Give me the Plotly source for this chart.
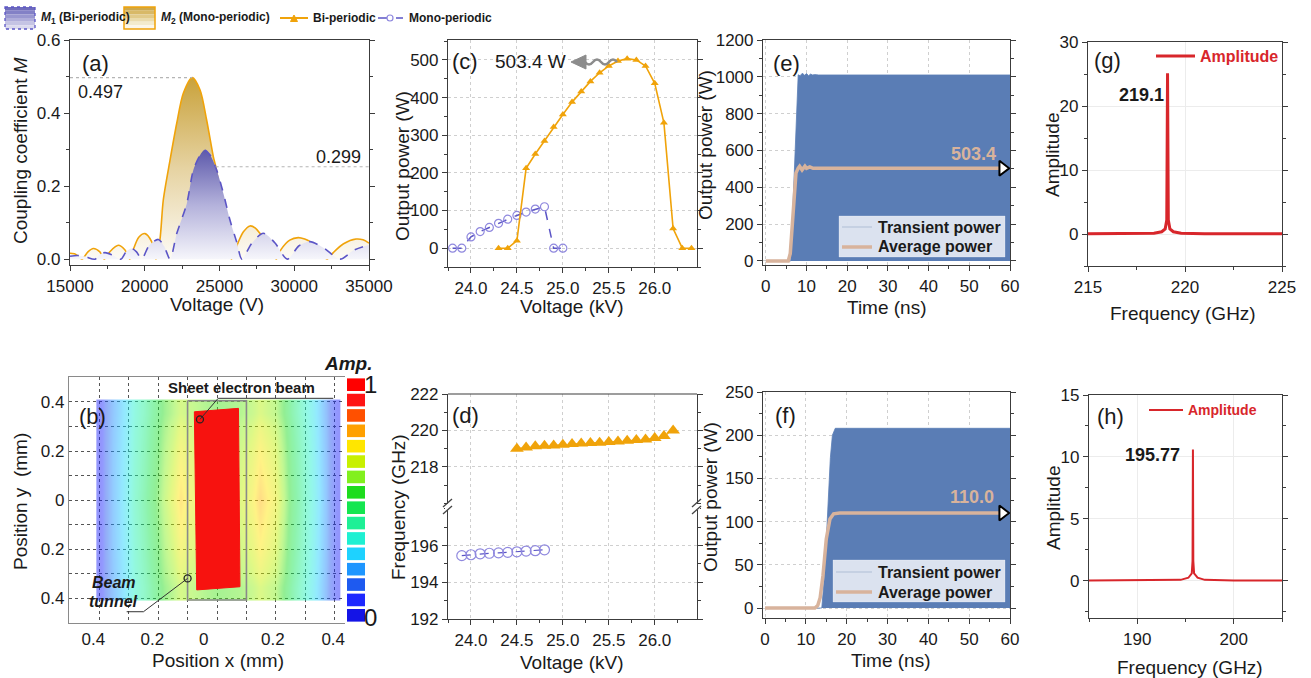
import plotly.graph_objects as go

W, H = 1311, 678
FONT = "Liberation Sans, Arial, sans-serif"
AXIS = "#3c3c3c"
TXT = "#1a1a1a"
ORANGE = "#F0A30A"
PURPLE = "#5B55C6"
CIRCLE = "#8F88DE"
BLUE_FILL = "#5A7DB5"
TAN = "#D8B39C"
RED = "#D8262B"
GRID = "#cfcfcf"


def px(x):
    return x / W


def py(y):
    return 1 - y / H


# ---------------- (a) coupling coefficient ----------------
volt_m2 = [15000, 15300, 15560, 15800, 16200, 16560, 17000, 17300, 17680, 18230,
           18680, 19000, 19240, 19600, 20020, 20460, 20750, 21020, 21240, 21690,
           22140, 22580, 23180, 23700, 24140, 24590, 24740, 25100, 25450, 25800,
           26260, 26600, 27040, 27400, 27710, 28300, 28800, 29110, 29700, 30270,
           30700, 31050, 31600, 32200, 32610, 33300, 34130, 34600, 35000]
m2 = [0.016, 0.015, 0.008, 0.0, 0.020, 0.029, 0.020, 0.0, 0.021, 0.038,
      0.025, 0.0, 0.027, 0.060, 0.070, 0.048, 0.0, 0.055, 0.162, 0.271,
      0.372, 0.454, 0.497, 0.463, 0.381, 0.280, 0.255, 0.170, 0.080, 0.0,
      0.047, 0.075, 0.091, 0.085, 0.070, 0.035, 0.0, 0.026, 0.052, 0.059,
      0.055, 0.048, 0.025, 0.0, 0.018, 0.042, 0.055, 0.053, 0.044]

volt_m1 = [15000, 15500, 16000, 16670, 17000, 17340, 17800, 18400, 18750, 19120,
           19450, 19790, 20300, 20910, 21300, 21690, 22140, 22810, 23250, 23700,
           23990, 24370, 24810, 25260, 25700, 26150, 26500, 27150, 27930, 28700,
           29540, 30300, 31050, 32000, 33060, 34000, 35000]
m1 = [0.008, 0.010, 0.007, 0.0, 0.013, 0.018, 0.012, 0.0, 0.020, 0.029,
      0.020, 0.0, 0.038, 0.054, 0.035, 0.0, 0.070, 0.152, 0.244, 0.285,
      0.299, 0.285, 0.244, 0.180, 0.107, 0.047, 0.0, 0.043, 0.071, 0.045,
      0.0, 0.036, 0.048, 0.030, 0.0, 0.025, 0.039]

guide_a1_x = [15000, 23180]
guide_a1_y = [0.497, 0.497]
guide_a2_x = [24740, 35000]
guide_a2_y = [0.253, 0.253]

# ---------------- (c) output power vs voltage ----------------
volt_bi = [24.3, 24.4, 24.5, 24.6, 24.7, 24.8, 24.9, 25.0, 25.1, 25.2, 25.3,
           25.4, 25.5, 25.6, 25.7, 25.8, 25.9, 26.0, 26.1, 26.2, 26.3, 26.4]
power_bi = [0, 0, 20, 212, 250, 285, 322, 355, 388, 416, 443,
            466, 484, 497, 503.4, 500, 484, 438, 333, 52, 0, 0]
volt_mono = [23.8, 23.9, 24.0, 24.1, 24.2, 24.3, 24.4, 24.5, 24.6, 24.7, 24.8, 24.9, 25.0]
power_mono = [0, 0, 30, 44, 55, 66, 77, 87, 96, 104, 110, 0, 0]

# ---------------- (d) frequency vs voltage ----------------
volt_bi_f = [24.5, 24.6, 24.7, 24.8, 24.9, 25.0, 25.1, 25.2, 25.3, 25.4, 25.5,
             25.6, 25.7, 25.8, 25.9, 26.0, 26.1, 26.2]
freq_bi = [219.0, 219.07, 219.13, 219.16, 219.18, 219.22, 219.25, 219.29, 219.31,
           219.33, 219.36, 219.4, 219.44, 219.47, 219.5, 219.58, 219.69, 220.0]
volt_mono_f = [23.9, 24.0, 24.1, 24.2, 24.3, 24.4, 24.5, 24.6, 24.7, 24.8]
freq_mono = [195.45, 195.5, 195.55, 195.58, 195.6, 195.63, 195.66, 195.7, 195.72, 195.77]

# ---------------- (e) time domain, bi-periodic ----------------
t_env_e = [0, 6.1, 6.5, 7.0, 7.5, 7.95, 8.4, 9.0, 9.5, 10.0, 10.5, 11.0, 11.5, 12.0, 13.0, 60]
p_env_e = [0, 0, 210, 500, 760, 1011, 1006, 1020, 1008, 1018, 1006, 1015, 1010, 1012, 1010, 1010]
t_avg_e = [0, 5.5, 6.0, 6.5, 7.0, 7.4, 7.95, 8.3, 8.9, 9.6, 10.0, 10.8, 11.6, 12.5, 58.2]
p_avg_e = [0, 0, 40, 180, 360, 477, 504, 514, 494, 515, 503, 511, 503, 503.4, 503.4]
avg_e = 503.4

# ---------------- (f) time domain, mono-periodic ----------------
t_env_f = [0, 13.9, 14.6, 15.2, 15.6, 16.0, 16.5, 17.2, 60]
p_env_f = [0, 0, 40, 98, 140, 174, 200, 208, 208]
t_avg_f = [0, 12.2, 12.9, 13.5, 14.2, 15.0, 15.9, 16.8, 18.3, 58.2]
p_avg_f = [0, 0, 3, 12, 38, 80, 103, 109, 110.0, 110.0]
avg_f = 110.0

# ---------------- (g), (h) spectra ----------------
freq_g = [215, 217, 218.4, 218.8, 218.98, 219.06, 219.1, 219.14, 219.22, 219.4, 219.8, 221, 223, 225]
amp_g = [0.03, 0.04, 0.12, 0.35, 0.8, 2.2, 25.1, 2.2, 0.8, 0.35, 0.12, 0.04, 0.03, 0.03]
peak_g = 219.1
freq_h = [185, 190, 194.5, 195.3, 195.65, 195.73, 195.77, 195.81, 195.89, 196.25, 197, 200, 205]
amp_h = [0.02, 0.03, 0.08, 0.25, 0.6, 1.6, 10.6, 1.6, 0.6, 0.25, 0.08, 0.03, 0.02]
peak_h = 195.77

# ---------------- (b) field distribution ----------------
# cell edges of the field map (mm)
field_x_edges = [-0.41, -0.38, -0.33, -0.28, -0.21, -0.15, -0.10, -0.04, 0.04, 0.12,
                 0.17, 0.23, 0.28, 0.33, 0.37, 0.40, 0.42]
field_y_edges = [-0.41, -0.30, -0.10, 0.10, 0.30, 0.41]
field_z = [
    [0.05, 0.19, 0.29, 0.41, 0.55, 0.64, 0.60, 0.56, 0.58, 0.65, 0.60, 0.45, 0.34, 0.23, 0.11, 0.05],
    [0.05, 0.20, 0.30, 0.43, 0.59, 0.71, 0.65, 0.59, 0.63, 0.73, 0.66, 0.48, 0.36, 0.24, 0.12, 0.05],
    [0.05, 0.20, 0.31, 0.45, 0.62, 0.76, 0.68, 0.62, 0.66, 0.78, 0.70, 0.50, 0.37, 0.25, 0.12, 0.05],
    [0.05, 0.20, 0.30, 0.43, 0.59, 0.71, 0.65, 0.59, 0.63, 0.73, 0.66, 0.48, 0.36, 0.24, 0.12, 0.05],
    [0.05, 0.19, 0.29, 0.41, 0.55, 0.64, 0.60, 0.56, 0.58, 0.65, 0.60, 0.45, 0.34, 0.23, 0.11, 0.05],
]
beam_x = [-0.077, 0.073, 0.078, -0.069, -0.077]
beam_y = [0.360, 0.374, -0.354, -0.367, 0.360]
tunnel_x = [-0.1, 0.1, 0.1, -0.1, -0.1]
tunnel_y = [0.405, 0.405, -0.408, -0.408, 0.405]
sheet_leader_x = [-0.058, 0.004, 0.395]
sheet_leader_y = [0.329, 0.415, 0.415]
tunnel_leader_x = [-0.1, -0.25, -0.307]
tunnel_leader_y = [-0.32, -0.456, -0.456]
level_colors = ['#1414E6', '#1E28FF', '#1E5AF0', '#1E96FF', '#1ED2FF', '#1EF0D2',
                '#1EF096', '#14E650', '#1EDC1E', '#82F01E', '#C8F000', '#FFE600',
                '#FFA000', '#FF5000', '#FF1414', '#FF0000']
levels = list(range(len(level_colors)))

fig = go.Figure()

# (a)
fig.add_trace(go.Scatter(
    x=volt_m2, y=m2, mode='lines', line=dict(color=ORANGE, width=1.6, shape='spline', smoothing=0.8),
    fill='tozeroy',
    fillgradient=dict(type='vertical', start=0, stop=0.497,
                      colorscale=[[0, '#FDFBF5'], [0.5, '#E6D3A2'], [1, '#C9A23B']]),
    xaxis='x', yaxis='y', showlegend=False, hoverinfo='skip'))
fig.add_trace(go.Scatter(
    x=volt_m1, y=m1, mode='lines', line=dict(color=PURPLE, width=1.6, dash='dash', shape='spline', smoothing=0.8),
    fill='tozeroy',
    fillgradient=dict(type='vertical', start=0, stop=0.299,
                      colorscale=[[0, '#F6F6FB'], [0.5, '#B3B1DB'], [1, '#5D59AB']]),
    xaxis='x', yaxis='y', showlegend=False, hoverinfo='skip'))
for gx, gy in ((guide_a1_x, guide_a1_y), (guide_a2_x, guide_a2_y)):
    fig.add_trace(go.Scatter(x=gx, y=gy, mode='lines', line=dict(color='#b5b5b5', width=1.2, dash='dot'),
                             xaxis='x', yaxis='y', showlegend=False, hoverinfo='skip'))

# (c)
fig.add_trace(go.Scatter(x=volt_mono, y=power_mono, mode='lines+markers',
                         line=dict(color=PURPLE, width=1.5, dash='dash'),
                         marker=dict(symbol='circle-open', size=8, color=CIRCLE, line=dict(width=1.2)),
                         xaxis='x2', yaxis='y2', showlegend=False))
fig.add_trace(go.Scatter(x=volt_bi, y=power_bi, mode='lines+markers',
                         line=dict(color=ORANGE, width=1.6),
                         marker=dict(symbol='triangle-up', size=7, color=ORANGE),
                         xaxis='x2', yaxis='y2', showlegend=False))

# (d)
fig.add_trace(go.Scatter(x=volt_bi_f, y=freq_bi, mode='lines+markers',
                         line=dict(color=ORANGE, width=1.2, dash='dash'),
                         marker=dict(symbol='triangle-up', size=12, color=ORANGE),
                         xaxis='x6', yaxis='y6', showlegend=False))
fig.add_trace(go.Scatter(x=volt_mono_f, y=freq_mono, mode='lines+markers',
                         line=dict(color=PURPLE, width=1.2, dash='dash'),
                         marker=dict(symbol='circle-open', size=10, color=CIRCLE, line=dict(width=1.2)),
                         xaxis='x6', yaxis='y10', showlegend=False))

# (e)
fig.add_trace(go.Scatter(x=t_env_e, y=p_env_e, mode='lines', line=dict(color=BLUE_FILL, width=0.8),
                         fill='tozeroy', fillcolor=BLUE_FILL, xaxis='x3', yaxis='y3', showlegend=False))
fig.add_trace(go.Scatter(x=t_avg_e, y=p_avg_e, mode='lines', line=dict(color=TAN, width=3.5),
                         xaxis='x3', yaxis='y3', showlegend=False))
fig.add_trace(go.Scatter(x=[t_avg_e[-1]], y=[avg_e], mode='markers',
                         marker=dict(symbol='triangle-right', size=13, color='white', line=dict(color='black', width=2)),
                         xaxis='x3', yaxis='y3', showlegend=False))

# (f)
fig.add_trace(go.Scatter(x=t_env_f, y=p_env_f, mode='lines', line=dict(color=BLUE_FILL, width=0.8),
                         fill='tozeroy', fillcolor=BLUE_FILL, xaxis='x7', yaxis='y7', showlegend=False))
fig.add_trace(go.Scatter(x=t_avg_f, y=p_avg_f, mode='lines', line=dict(color=TAN, width=3.5),
                         xaxis='x7', yaxis='y7', showlegend=False))
fig.add_trace(go.Scatter(x=[t_avg_f[-1]], y=[avg_f], mode='markers',
                         marker=dict(symbol='triangle-right', size=13, color='white', line=dict(color='black', width=2)),
                         xaxis='x7', yaxis='y7', showlegend=False))

# (g), (h)
fig.add_trace(go.Scatter(x=freq_g, y=amp_g, mode='lines', line=dict(color=RED, width=3),
                         xaxis='x4', yaxis='y4', showlegend=False))
fig.add_trace(go.Scatter(x=freq_h, y=amp_h, mode='lines', line=dict(color=RED, width=2),
                         xaxis='x8', yaxis='y8', showlegend=False))

# (b)
field_scale = [[i / (len(level_colors) - 1), c] for i, c in enumerate(level_colors)]
fig.add_trace(go.Heatmap(x=field_x_edges, y=field_y_edges, z=field_z, colorscale=field_scale, zmin=0, zmax=1,
                         zsmooth='best', opacity=0.48, showscale=False, xaxis='x5', yaxis='y5'))
fig.add_trace(go.Scatter(x=tunnel_x, y=tunnel_y, mode='lines', line=dict(color='#8a8a8a', width=1.6),
                         xaxis='x5', yaxis='y5', showlegend=False))
fig.add_trace(go.Scatter(x=beam_x, y=beam_y, mode='lines', fill='toself', fillcolor='#F7120F',
                         line=dict(color='#F7120F', width=1), xaxis='x5', yaxis='y5', showlegend=False))
for lx, ly in ((sheet_leader_x, sheet_leader_y), (tunnel_leader_x, tunnel_leader_y)):
    fig.add_trace(go.Scatter(x=lx, y=ly, mode='lines', line=dict(color='#333', width=1),
                             xaxis='x5', yaxis='y5', showlegend=False))
    fig.add_trace(go.Scatter(x=[lx[0]], y=[ly[0]], mode='markers',
                             marker=dict(symbol='circle-open', size=7, color='#222', line=dict(width=1.3)),
                             xaxis='x5', yaxis='y5', showlegend=False))
fig.add_trace(go.Bar(x=[1] * len(levels), y=levels, orientation='h', width=0.82,
                     marker=dict(color=level_colors, line=dict(width=0)),
                     xaxis='x9', yaxis='y9', showlegend=False))


def ax(domain, rng, **kw):
    d = dict(domain=domain, range=rng, showline=True, linecolor=AXIS, linewidth=1.2,
             ticks='outside', ticklen=5, tickwidth=1.2, tickcolor=AXIS, automargin=False,
             tickfont=dict(family=FONT, size=17, color=TXT), zeroline=False, showgrid=False)
    d.update(kw)
    return d


def minor(dt, grid=False):
    return dict(dtick=dt, ticks='outside', ticklen=3, tickwidth=1, tickcolor=AXIS, showgrid=grid)


gridkw = dict(showgrid=True, gridcolor=GRID, griddash='dot', gridwidth=1)

layout = dict(
    width=W, height=H, margin=dict(l=0, r=0, t=0, b=0, pad=0, autoexpand=False),
    paper_bgcolor='white', plot_bgcolor='rgba(0,0,0,0)', font=dict(family=FONT, color=TXT),
    # (a)
    xaxis=ax([px(70), px(369)], [15000, 35000], anchor='y', dtick=5000, tickformat='d',
             minor=minor(2500), mirror=True),
    yaxis=ax([py(265), py(40)], [-0.016, 0.6], anchor='x', dtick=0.2, tickformat='.1f',
             minor=minor(0.1), mirror='ticks'),
    # (c)
    xaxis2=ax([px(448), px(697)], [23.75, 26.46], anchor='y2', dtick=0.5, tick0=24, tickformat='.1f',
              minor=minor(0.25), mirror=True, **gridkw),
    yaxis2=ax([py(267), py(40)], [-50, 553], anchor='x2', dtick=100, minor=minor(50), mirror='ticks', **gridkw),
    # (e)
    xaxis3=ax([px(763), px(1010)], [-0.7, 60], anchor='y3', dtick=10, minor=minor(5), mirror=True, **gridkw),
    yaxis3=ax([py(265), py(40)], [-22, 1200], anchor='x3', dtick=200, minor=minor(100), mirror='ticks', **gridkw),
    # (g)
    xaxis4=ax([px(1088), px(1282)], [215, 225], anchor='y4', dtick=5, minor=minor(2.5), mirror=True,
              showgrid=True, gridcolor='#ececec'),
    yaxis4=ax([py(266), py(42)], [-5, 30], anchor='x4', dtick=10, minor=minor(5), mirror='ticks',
              showgrid=True, gridcolor='#ececec'),
    # (b)
    xaxis5=ax([px(69), px(345)], [-0.503, 0.435], anchor='y5', ticks='', linecolor='#8a8a8a',
              tickvals=[-0.42, -0.22, -0.045, 0.19, 0.395], ticktext=['0.4', '0.2', '0', '0.2', '0.4'],
              mirror=True,
              minor=dict(tickvals=[-0.4, -0.3, -0.2, -0.1, 0.0, 0.1, 0.2, 0.3, 0.4], ticks='',
                         showgrid=True, gridcolor='#555', griddash='dot', gridwidth=1)),
    yaxis5=ax([py(623), py(377)], [-0.502, 0.502], anchor='x5', ticks='', linecolor='#8a8a8a',
              tickvals=[-0.4, -0.2, 0, 0.2, 0.4], ticktext=['0.4', '0.2', '0', '0.2', '0.4'],
              showgrid=True, gridcolor='#555', griddash='dot',
              minor=dict(tickvals=[-0.3, -0.1, 0.1, 0.3], ticks='', showgrid=True,
                         gridcolor='#555', griddash='dot')),
    # (d)
    xaxis6=ax([px(448), px(697)], [23.75, 26.46], anchor='y10', dtick=0.5, tick0=24, tickformat='.1f',
              minor=minor(0.25), **gridkw),
    yaxis6=ax([py(507), py(394)], [215.8, 222], anchor='x6', tickvals=[218, 220, 222],
              minor=dict(tickvals=[216, 217, 219, 221], ticks='outside', ticklen=3, tickcolor=AXIS),
              mirror='ticks', **gridkw),
    yaxis10=ax([py(619), py(507)], [192, 198.1], anchor='x6', tickvals=[192, 194, 196],
               minor=dict(tickvals=[193, 195, 197, 198], ticks='outside', ticklen=3, tickcolor=AXIS),
               mirror='ticks', **gridkw),
    # (f)
    xaxis7=ax([px(763), px(1010)], [-0.5, 60], anchor='y7', dtick=10, minor=minor(5), mirror=True, **gridkw),
    yaxis7=ax([py(618), py(392)], [-11.5, 250], anchor='x7', dtick=50, minor=minor(25), mirror='ticks', **gridkw),
    # (h)
    xaxis8=ax([px(1089), px(1282)], [185, 205], anchor='y8', dtick=10, minor=minor(5), mirror=True,
              showgrid=True, gridcolor='#ececec'),
    yaxis8=ax([py(618), py(395)], [-3, 15], anchor='x8', dtick=5, minor=minor(2.5), mirror='ticks',
              showgrid=True, gridcolor='#ececec'),
    # colour scale boxes of (b)
    xaxis9=dict(domain=[px(347), px(365)], range=[0, 1], visible=False, anchor='y9', fixedrange=True),
    yaxis9=dict(domain=[py(623), py(377)], range=[-0.5, 15.5], visible=False, anchor='x9', fixedrange=True),
    bargap=0.2,
)
fig.update_layout(**layout)

ann = []


def note(text, x, y, size=17, color=TXT, xanchor='center', yanchor='middle', angle=0):
    ann.append(dict(text=text, xref='paper', yref='paper', x=px(x), y=py(y), showarrow=False,
                    font=dict(family=FONT, size=size, color=color), xanchor=xanchor, yanchor=yanchor,
                    textangle=angle))


# panel letters
for lab, x, y in (("(a)", 95, 63), ("(c)", 465, 62), ("(e)", 786, 63), ("(g)", 1107, 60),
                  ("(b)", 93, 417), ("(d)", 465, 415), ("(f)", 785, 415), ("(h)", 1110, 417)):
    note(lab, x, y, size=22)

# axis titles
note("Coupling coefficient <i>M</i>", 21, 151, size=19, angle=-90)
note("Voltage (V)", 217, 304, size=19)
note("Output power (W)", 402, 166, size=19, angle=-90)
note("Voltage (kV)", 572, 306, size=19)
note("Output power (W)", 706, 145, size=19, angle=-90)
note("Time (ns)", 887, 307, size=19)
note("Amplitude", 1053, 155, size=19, angle=-90)
note("Frequency (GHz)", 1183, 313, size=19)
note("Position y  (mm)", 20, 502, size=19, angle=-90)
note("Position x (mm)", 218, 660, size=19)
note("Frequency (GHz)", 398, 507, size=19, angle=-90)
note("Voltage (kV)", 572, 662, size=19)
note("Output power (W)", 711, 497, size=19, angle=-90)
note("Time (ns)", 891, 660, size=19)
note("Amplitude", 1053, 508, size=19, angle=-90)
note("Frequency (GHz)", 1190, 667, size=19)

# value labels
note("0.497", 76, 92, size=18, xanchor='left')
note("0.299", 363, 157, size=18, xanchor='right')
note("503.4 W", 493, 62, size=19, xanchor='left')
note("<b>%.1f</b>" % avg_e, 973, 154, size=18, color=TAN)
note("<b>%.1f</b>" % avg_f, 972, 497, size=18, color=TAN)
note("<b>%.1f</b>" % peak_g, 1141, 95, size=18)
note("<b>%.2f</b>" % peak_h, 1152, 455, size=18)

# (b) labels
note("<b>Sheet electron beam</b>", 241, 387, size=15)
note("<b><i>Beam</i></b>", 114, 582, size=16)
note("<b><i>tunnel</i></b>", 113, 601, size=16)
note("<b><i>Amp.</i></b>", 349, 363, size=19)
note("1", 371, 385, size=24)
note("0", 371, 617, size=24)

# legends of (e), (f), (g), (h)
note("<b>Transient power</b>", 876, 227, size=16, xanchor='left')
note("<b>Average power</b>", 876, 247, size=16, xanchor='left')
note("<b>Transient power</b>", 876, 572, size=16, xanchor='left')
note("<b>Average power</b>", 876, 592, size=16, xanchor='left')
note("<b>Amplitude</b>", 1198, 56, size=16, color=RED, xanchor='left')
note("<b>Amplitude</b>", 1186, 410, size=14, color=RED, xanchor='left')

# top legend
note("<b><i>M</i><sub>1</sub> (Bi-periodic)</b>", 39, 18, size=12, xanchor='left')
note("<b><i>M</i><sub>2</sub> (Mono-periodic)</b>", 159, 18, size=12, xanchor='left')
note("<b>Bi-periodic</b>", 311, 18, size=12, xanchor='left')
note("<b>Mono-periodic</b>", 407, 18, size=12, xanchor='left')

fig.update_layout(annotations=ann)

shapes = []


def pline(x0, y0, x1, y1, color, width=1.5, dash='solid'):
    shapes.append(dict(type='line', xref='paper', yref='paper', x0=px(x0), y0=py(y0), x1=px(x1), y1=py(y1),
                       line=dict(color=color, width=width, dash=dash)))


def prect(x0, y0, x1, y1, fill, color=None, width=0, dash='solid'):
    shapes.append(dict(type='rect', xref='paper', yref='paper', x0=px(x0), y0=py(y0), x1=px(x1), y1=py(y1),
                       fillcolor=fill, line=dict(color=color or fill, width=width, dash=dash)))


# top legend swatches
m1_bands = ['#6E6BBC', '#8381C6', '#9997D0', '#AFADDA', '#C5C4E4', '#DBDAEE']
m2_bands = ['#CEA84A', '#D8B968', '#E1CA8A', '#EADBAC', '#F3EBCD', '#FBF6EA']
band_h = 22 / len(m1_bands)
for i, c in enumerate(m1_bands):
    prect(5, 7 + i * band_h, 35, 7 + (i + 1) * band_h, c)
for i, c in enumerate(m2_bands):
    prect(124, 7 + i * band_h, 155, 7 + (i + 1) * band_h, c)
prect(5, 7, 35, 29, 'rgba(0,0,0,0)', color=PURPLE, width=1.3, dash='dot')
prect(124, 7, 155, 29, 'rgba(0,0,0,0)', color=ORANGE, width=1.5)
pline(280, 18, 308, 18, ORANGE, 2)
shapes.append(dict(type='path', xref='paper', yref='paper', fillcolor=ORANGE, line=dict(color=ORANGE, width=1),
                   path="M %f,%f L %f,%f L %f,%f Z" % (px(290.5), py(21.5), px(297.5), py(21.5), px(294), py(15))))
pline(378, 18, 403, 18, PURPLE, 1.5, 'dash')
shapes.append(dict(type='circle', xref='paper', yref='paper', x0=px(387), y0=py(15), x1=px(393), y1=py(21),
                   fillcolor='white', line=dict(color=CIRCLE, width=1.2)))

# legend boxes in (e) and (f)
prect(839, 216, 1005, 257, 'rgba(255,255,255,0.78)', color='rgba(255,255,255,0.5)', width=0.5)
pline(842, 227, 872, 227, '#C5D0E2', 2)
pline(842, 247, 872, 247, TAN, 3.5)
prect(833, 560, 1005, 602, 'rgba(255,255,255,0.78)', color='rgba(255,255,255,0.5)', width=0.5)
pline(836, 572, 872, 572, '#C5D0E2', 2)
pline(836, 592, 872, 592, TAN, 3.5)

# legend lines in (g) and (h)
pline(1156, 56, 1195, 56, RED, 3)
pline(1149, 410, 1183, 410, RED, 2)

# top border of (d)
pline(448, 394, 697, 394, AXIS, 1.2)

# axis break marks of (d)
for bx in (448, 697):
    prect(bx - 3, 504, bx + 3, 510, 'white')
    pline(bx - 5, 507, bx + 4, 499, '#444', 1.3)
    pline(bx - 5, 514, bx + 4, 506, '#444', 1.3)

# wavy arrow next to the 503.4 W label
wave = "M %f,%f" % (px(617), py(62))
pts = [(613, 57), (609, 62), (605, 67), (601, 62), (597, 57), (593, 62), (589, 67), (585, 62)]
for i in range(0, len(pts), 2):
    (cx, cy), (ex, ey) = pts[i], pts[i + 1]
    wave += " Q %f,%f %f,%f" % (px(cx), py(cy), px(ex), py(ey))
shapes.append(dict(type='path', xref='paper', yref='paper', path=wave, line=dict(color='#8c8c8c', width=2.5)))
shapes.append(dict(type='path', xref='paper', yref='paper', fillcolor='#8c8c8c', line=dict(color='#8c8c8c', width=1),
                   path="M %f,%f L %f,%f L %f,%f Z" % (px(571), py(62), px(586), py(55), px(586), py(69))))

fig.update_layout(shapes=shapes)

fig.write_html("out.html")
